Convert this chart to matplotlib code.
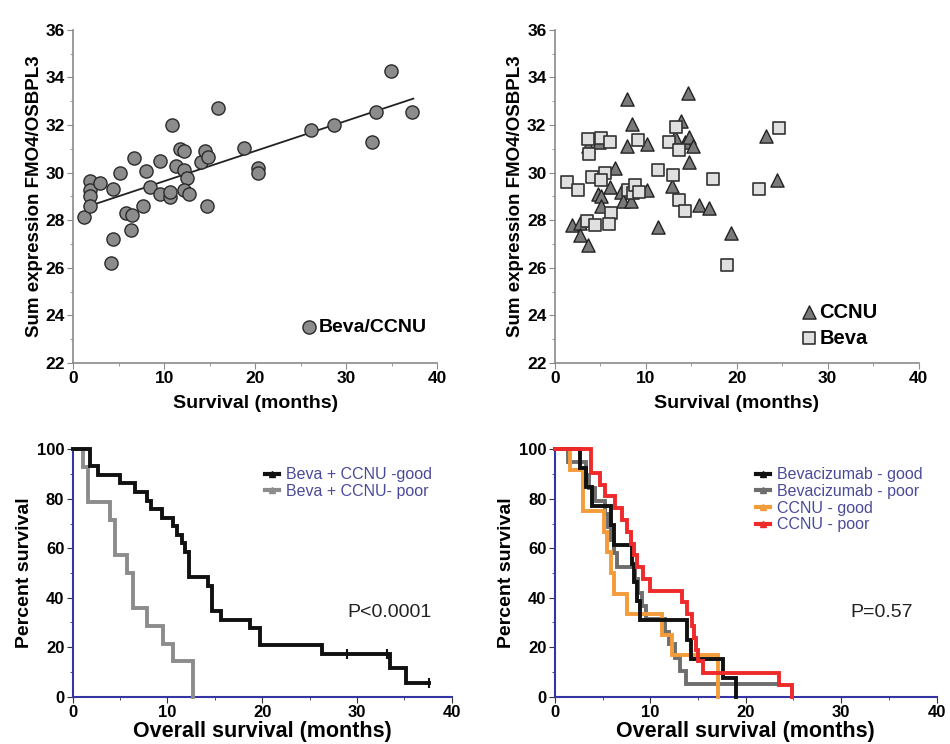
import matplotlib
matplotlib.use("Agg")
import matplotlib.pyplot as plt
from matplotlib.lines import Line2D
from matplotlib.ticker import MultipleLocator
import numpy as np

plt.rcParams['font.family'] = ['Liberation Sans', 'DejaVu Sans']

# ---------------- data ----------------
# Top-left: Beva/CCNU scatter
bc_x = [1.2, 1.8, 1.8, 1.8, 1.8, 3.0, 4.4, 4.4, 4.2, 5.2, 5.8, 6.5, 6.4, 6.7, 7.7, 8.0,
        8.4, 9.5, 9.6, 10.7, 10.7, 10.9, 11.3, 11.8, 12.2, 12.2, 12.5, 12.2, 12.7, 14.1,
        14.5, 14.8, 14.7, 15.9, 18.8, 20.3, 20.3, 26.1, 28.7, 32.9, 33.3, 34.9, 37.2]
bc_y = [28.13, 29.63, 29.28, 29.0, 28.6, 29.56, 29.3, 27.2, 26.2, 29.98, 28.3, 28.2, 27.6,
        30.6, 28.6, 30.08, 29.4, 30.47, 29.1, 28.99, 29.17, 32.0, 30.26, 30.98, 30.89, 30.12,
        29.77, 29.28, 29.1, 30.44, 30.89, 30.65, 28.6, 32.7, 31.03, 30.2, 29.98, 31.77, 32.0,
        31.3, 32.54, 34.25, 32.54]

# Top-right: CCNU (triangles) and Beva (squares)
ccnu_x = [7.9, 14.6, 8.5, 13.9, 7.9, 13.2, 14.3, 14.7, 15.2, 10.1, 14.7, 3.7, 4.9, 6.6, 6.1,
          4.8, 5.1, 5.1, 7.3, 7.5, 8.4, 10.1, 12.9, 11.3, 15.8, 17.0, 19.4, 23.2, 24.4, 1.9,
          2.8, 2.8, 3.6]
ccnu_y = [33.1, 33.35, 32.05, 32.15, 31.1, 31.5, 31.3, 31.5, 31.1, 31.2, 30.45, 31.1, 31.3,
          30.2, 29.4, 29.1, 29.0, 28.6, 29.2, 28.8, 28.8, 29.28, 29.45, 27.7, 28.65, 28.5,
          27.48, 31.55, 29.67, 27.8, 27.9, 27.4, 26.97]
beva_x = [1.3, 2.6, 3.5, 4.4, 3.7, 3.8, 5.1, 6.1, 9.2, 4.1, 5.5, 5.1, 6.2, 6.0, 8.1, 8.6, 8.8,
          9.3, 11.3, 13.0, 13.7, 14.3, 12.5, 13.3, 13.7, 17.4, 22.5, 24.6, 18.9]
beva_y = [29.6, 29.25, 27.98, 27.78, 31.4, 30.8, 31.45, 31.27, 31.38, 29.8, 30.0, 29.7, 28.3,
          27.85, 29.28, 29.15, 29.5, 29.2, 30.1, 29.9, 28.86, 28.4, 31.27, 31.93, 30.93, 29.74,
          29.32, 31.87, 26.1]

# Bottom-left: Kaplan-Meier, Beva + CCNU good / poor
good_t = [0, 1.83, 2.7, 5.0, 6.6, 7.8, 8.3, 9.4, 10.6, 11.0, 11.5, 11.9, 12.3, 14.3, 14.7,
          15.7, 18.7, 19.8, 26.3, 33.5, 35.2]
good_s = [100, 93.1, 89.7, 86.2, 82.8, 79.3, 75.9, 72.4, 69.0, 65.5, 62.1, 58.6, 48.3, 44.8,
          34.5, 31.0, 27.6, 20.7, 17.2, 11.5, 5.7]
good_end = 37.6
good_cens_t = [28.9, 33.2, 37.6]
good_cens_s = [17.2, 17.2, 5.7]

poor_t = [0, 1.05, 1.65, 3.94, 4.47, 5.7, 6.4, 7.8, 9.57, 10.6, 12.7]
poor_s = [100, 92.9, 78.6, 71.4, 57.1, 50.0, 35.7, 28.6, 21.4, 14.3, 0]

# Bottom-right: Kaplan-Meier, four groups
bg_t = [0, 2.6, 3.3, 3.85, 5.9, 6.2, 8.1, 8.3, 8.6, 8.9, 13.8, 14.3, 17.6, 19.0]
bg_s = [100, 92.3, 84.6, 76.9, 69.2, 61.5, 53.8, 46.2, 38.5, 30.8, 23.1, 15.4, 7.7, 0]

bp_t = [0, 1.4, 3.3, 3.6, 4.2, 5.3, 5.6, 5.9, 6.2, 6.5, 8.4, 8.7, 9.1, 9.5, 11.5, 12.0,
        12.6, 13.1, 13.7]
bp_s = [100, 94.7, 89.5, 84.2, 78.9, 73.7, 68.4, 63.2, 57.9, 52.6, 47.4, 42.1, 36.8, 31.6,
        26.3, 21.1, 15.8, 10.5, 5.3]
bp_end = 23.5

cg_t = [0, 1.6, 3.0, 5.2, 5.5, 5.9, 6.2, 7.6, 11.2, 12.3, 17.1]
cg_s = [100, 91.7, 75.0, 66.7, 58.3, 50.0, 41.7, 33.3, 25.0, 16.7, 0]

cp_t = [0, 3.74, 4.7, 5.3, 6.3, 7.0, 7.6, 8.0, 8.3, 8.6, 9.2, 10.0, 13.3, 13.8, 14.4, 14.6,
        14.8, 15.0, 15.5, 23.5, 24.8]
cp_s = [100, 90.5, 85.7, 81.0, 76.2, 71.4, 66.7, 61.9, 57.1, 52.4, 47.6, 42.9, 38.1, 33.3,
        28.6, 23.8, 19.0, 14.3, 9.5, 4.8, 0]

# ---------------- figure ----------------
fig = plt.figure(figsize=(9.5, 7.44), dpi=100)

ax1 = fig.add_axes([0.077, 0.512, 0.383, 0.448])
ax2 = fig.add_axes([0.584, 0.512, 0.383, 0.448])
ax3 = fig.add_axes([0.0765, 0.0636, 0.399, 0.3325])
ax4 = fig.add_axes([0.584, 0.0636, 0.402, 0.3325])

spine_gray = '#8a8a8a'
blue = '#3535a5'
legend_txt = '#4a4a9a'

def style_scatter_axes(ax):
    for s in ['top', 'right']:
        ax.spines[s].set_visible(False)
    for s in ['left', 'bottom']:
        ax.spines[s].set_color(spine_gray)
        ax.spines[s].set_linewidth(1.2)
    ax.set_xlim(0, 40)
    ax.set_ylim(22, 36)
    ax.xaxis.set_major_locator(MultipleLocator(10))
    ax.xaxis.set_minor_locator(MultipleLocator(5))
    ax.yaxis.set_major_locator(MultipleLocator(2))
    ax.yaxis.set_minor_locator(MultipleLocator(1))
    ax.tick_params(which='both', color=spine_gray, direction='out')
    ax.tick_params(which='major', length=4, labelsize=12.5, pad=2)
    ax.tick_params(which='minor', length=2)
    for lab in ax.get_xticklabels() + ax.get_yticklabels():
        lab.set_fontweight('bold')
    ax.set_xlabel('Survival (months)', fontsize=14, fontweight='bold', labelpad=6)
    ax.set_ylabel('Sum expression FMO4/OSBPL3', fontsize=13.5, fontweight='bold', labelpad=2)

# Top-left
style_scatter_axes(ax1)
ax1.scatter(bc_x, bc_y, s=90, c='#8c8c8c', edgecolors='#2a2a2a', linewidths=1.0, zorder=3,
            label='Beva/CCNU')
coef = np.polyfit(bc_x, bc_y, 1)
xl = np.array([min(bc_x) + 0.5, max(bc_x) + 0.2])
ax1.plot(xl, np.polyval(coef, xl), color='#222222', lw=1.3, zorder=2)
ax1.legend(loc='lower right', bbox_to_anchor=(1.005, 0.045), frameon=False, handletextpad=0.1,
           handlelength=0.8, borderaxespad=0.2,
           prop={'weight': 'bold', 'size': 14})

# Top-right
style_scatter_axes(ax2)
ax2.scatter(ccnu_x, ccnu_y, s=90, marker='^', c='#7a7a7a', edgecolors='#222222',
            linewidths=1.0, zorder=3, label='CCNU')
ax2.scatter(beva_x, beva_y, s=70, marker='s', c='#e0e0e0', edgecolors='#333333',
            linewidths=1.2, zorder=4, label='Beva')
ax2.legend(loc='lower right', bbox_to_anchor=(0.92, 0.01), frameon=False, handletextpad=0.1,
           handlelength=0.8, labelspacing=0.35, borderaxespad=0.2,
           prop={'weight': 'bold', 'size': 14.5})

def style_km_axes(ax):
    for s in ['top', 'right']:
        ax.spines[s].set_visible(False)
    for s in ['left', 'bottom']:
        ax.spines[s].set_color(blue)
        ax.spines[s].set_linewidth(1.5)
    ax.set_xlim(0, 40)
    ax.set_ylim(0, 100)
    ax.xaxis.set_major_locator(MultipleLocator(10))
    ax.xaxis.set_minor_locator(MultipleLocator(5))
    ax.yaxis.set_major_locator(MultipleLocator(20))
    ax.yaxis.set_minor_locator(MultipleLocator(10))
    ax.tick_params(which='both', color='#333333', direction='out')
    ax.tick_params(which='major', length=4, labelsize=12, pad=2)
    ax.tick_params(which='minor', length=2)
    for lab in ax.get_xticklabels() + ax.get_yticklabels():
        lab.set_fontweight('bold')
    ax.set_xlabel('Overall survival (months)', fontsize=15.5, fontweight='bold', labelpad=1)
    ax.set_ylabel('Percent survival', fontsize=14, fontweight='bold', labelpad=3)

def km(ax, t, s, color, lw=2.8, end=None, z=3):
    xs = list(t)
    ys = list(s)
    if end is not None:
        xs = xs + [end]
        ys = ys + [ys[-1]]
    ax.step(xs, ys, where='post', color=color, lw=lw, clip_on=False, zorder=z,
            solid_joinstyle='miter')

# Bottom-left
style_km_axes(ax3)
km(ax3, poor_t, poor_s, '#8c8c8c', z=3)
km(ax3, good_t, good_s, '#111111', end=good_end, z=4)
ax3.plot(good_cens_t, good_cens_s, linestyle='none', marker='|', markersize=7,
         markeredgewidth=1.5, color='#111111', zorder=5, clip_on=False)
h3 = [Line2D([], [], color='#111111', lw=3, marker='^', markersize=5),
      Line2D([], [], color='#8c8c8c', lw=3, marker='^', markersize=5)]
leg3 = ax3.legend(h3, ['Beva + CCNU -good', 'Beva + CCNU- poor'], loc='upper right',
                  bbox_to_anchor=(0.985, 0.985), frameon=False, fontsize=11.5, handlelength=0.9,
                  handletextpad=0.4, labelspacing=0.1)
for t in leg3.get_texts():
    t.set_color(legend_txt)
ax3.text(0.835, 0.342, 'P<0.0001', transform=ax3.transAxes, ha='center', va='center',
         fontsize=14, color='#222222')

# Bottom-right
style_km_axes(ax4)
km(ax4, bp_t, bp_s, '#6e6e6e', end=bp_end, z=3)
km(ax4, cg_t, cg_s, '#f39c3a', z=4)
km(ax4, bg_t, bg_s, '#111111', z=5)
km(ax4, cp_t, cp_s, '#ee2a2a', z=6)
h4 = [Line2D([], [], color='#111111', lw=3, marker='^', markersize=5),
      Line2D([], [], color='#6e6e6e', lw=3, marker='^', markersize=5),
      Line2D([], [], color='#f39c3a', lw=3, marker='^', markersize=5),
      Line2D([], [], color='#ee2a2a', lw=3, marker='^', markersize=5)]
leg4 = ax4.legend(h4, ['Bevacizumab - good', 'Bevacizumab - poor', 'CCNU - good', 'CCNU - poor'],
                  loc='upper right', bbox_to_anchor=(1.0, 0.985), frameon=False, fontsize=11.5,
                  handlelength=0.9, handletextpad=0.4, labelspacing=0.1)
for t in leg4.get_texts():
    t.set_color(legend_txt)
ax4.text(0.855, 0.342, 'P=0.57', transform=ax4.transAxes, ha='center', va='center',
         fontsize=14, color='#222222')

fig.savefig('out.png', dpi=100, facecolor='white')
